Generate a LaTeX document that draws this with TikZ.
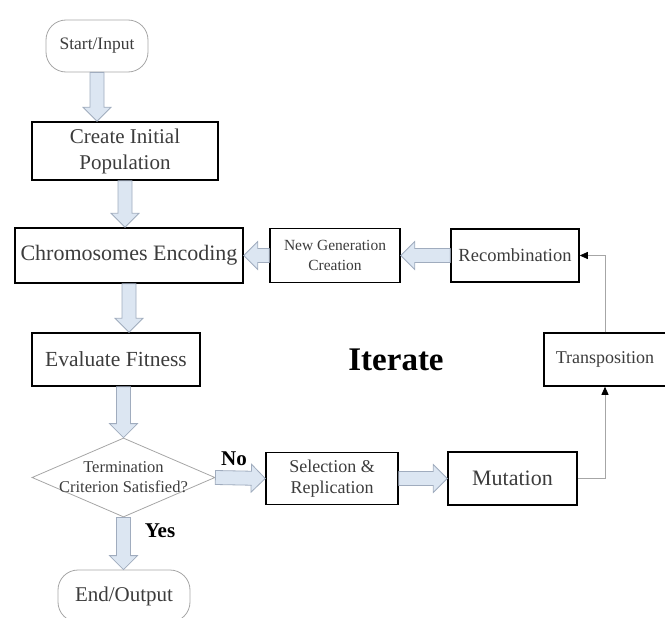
\documentclass[tikz,border=0pt]{standalone}
\usepackage{fontspec}
\setmainfont{Liberation Serif}
\usetikzlibrary{shapes.geometric,arrows.meta,calc}

\definecolor{arrowfill}{RGB}{220,230,242}
\definecolor{arrowline}{RGB}{160,172,190}
\definecolor{textgray}{RGB}{60,60,60}

% wide block arrow from #1 to #2
\newcommand{\fatarrow}[2]{%
  \path[draw=arrowline, fill=arrowfill, line width=0.8pt]
    let \p1=(#1), \p2=(#2),
        \n1={atan2(\y2-\y1,\x2-\x1)}, \n2={veclen(\x2-\x1,\y2-\y1)} in
    [shift={(\p1)}, rotate=\n1]
    (0pt,-7pt) -- (\n2-14pt,-7pt) -- (\n2-14pt,-14pt) -- (\n2,0pt)
    -- (\n2-14pt,14pt) -- (\n2-14pt,7pt) -- (0pt,7pt) -- cycle;}

\begin{document}
\begin{tikzpicture}[x=1pt,y=-1pt,
  box/.style={draw=black, line width=1.5pt, text=textgray, align=center, inner sep=0pt},
  terminal/.style={draw=black!35, line width=0.8pt, rounded corners=20pt, text=textgray, inner sep=0pt},
  decision/.style={diamond, draw=black!35, line width=0.8pt, inner sep=0pt},
  thinline/.style={draw=black!35, line width=0.8pt},
  blacktip/.style={-{Triangle[color=black,length=8pt,width=7pt]}},
  yesno/.style={font=\bfseries\fontsize{21}{24}\selectfont}]
  \useasboundingbox (0,0) rectangle (665,618);
  \clip (0,0) rectangle (665,618);

  % left column
  \node[terminal, minimum width=102, minimum height=52, font=\fontsize{17.5}{20}\selectfont]
    (start) at (97,46) {Start/Input};
  \node[box, minimum width=186, minimum height=58, font=\fontsize{21}{26}\selectfont]
    (init) at (125,151) {Create Initial\\Population};
  \node[box, minimum width=228, minimum height=55, font=\fontsize{22}{24}\selectfont]
    (enc) at (129,255.5) {Chromosomes Encoding};
  \node[box, minimum width=168, minimum height=53, font=\fontsize{21.5}{24}\selectfont]
    (eval) at (116,359.5) {Evaluate Fitness};
  \node[decision, minimum width=183, minimum height=79] (term) at (123.5,477.5) {};
  \node[text=textgray, align=center, font=\fontsize{16.5}{20}\selectfont]
    (termtext) at (term.center) {Termination\\Criterion Satisfied?};
  \node[terminal, minimum width=132, minimum height=52, font=\fontsize{21}{24}\selectfont]
    (end) at (124,596) {End/Output};

  % loop
  \node[box, minimum width=132, minimum height=52, font=\fontsize{18}{21}\selectfont]
    (sel) at (332,478.5) {Selection \&\\Replication};
  \node[box, minimum width=129, minimum height=53, font=\fontsize{22}{24}\selectfont]
    (mut) at (512.5,478.5) {Mutation};
  \node[box, minimum width=122, minimum height=53, font=\fontsize{18}{21}\selectfont]
    (trans) at (605,359.5) {Transposition};
  \node[box, minimum width=128, minimum height=53, font=\fontsize{18.5}{21}\selectfont]
    (recomb) at (515,255.5) {Recombination};
  \node[box, minimum width=130, minimum height=54, font=\fontsize{15.5}{20}\selectfont]
    (newgen) at (335,255.5) {New Generation\\Creation};

  \node[font=\bfseries\fontsize{33}{36}\selectfont] (iter) at (396,360) {Iterate};

  % block arrows
  \fatarrow{start.south}{start.south |- init.north}
  \fatarrow{init.south}{init.south |- enc.north}
  \fatarrow{enc.south}{enc.south |- eval.north}
  \fatarrow{eval.south -| term.north}{term.north}
  \fatarrow{term.south}{term.south |- end.north}
  \fatarrow{term.east}{sel.west}
  \fatarrow{sel.east}{mut.west}
  \fatarrow{recomb.west}{newgen.east}
  \fatarrow{newgen.west}{enc.east}

  \node[yesno] (no) at (234,459) {No};
  \node[yesno] (yes) at (160,531) {Yes};

  % thin connectors
  \draw[thinline, blacktip] (mut.east) -| (trans.south);
  \draw[thinline, blacktip] (trans.north) |- (recomb.east);
\end{tikzpicture}
\end{document}
